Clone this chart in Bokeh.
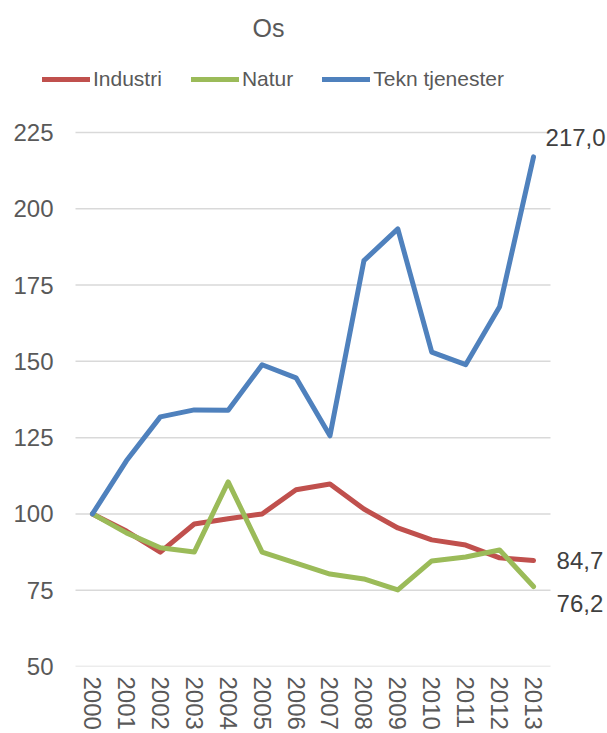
import math
from bokeh.plotting import figure
from bokeh.models import (Range1d, FixedTicker, Legend, LegendItem, Label)
from bokeh.embed import file_html
from bokeh.resources import INLINE

years = list(range(2000, 2014))
industri = [100, 94.4, 87.5, 96.7, 98.4, 100, 107.9, 109.8, 101.6, 95.4, 91.5, 89.8, 85.6, 84.7]
natur = [100, 93.8, 88.9, 87.5, 110.5, 87.5, 83.9, 80.3, 78.7, 75.1, 84.6, 85.9, 88.2, 76.2]
tekn = [100, 117.4, 131.8, 134.1, 134.0, 148.9, 144.6, 125.6, 183.0, 193.4, 153.0, 148.9, 167.9, 217.0]
y_ticks = [50, 75, 100, 125, 150, 175, 200, 225]
series_names = ["Industri", "Natur", "Tekn tjenester"]
colors = ["#C0504D", "#9BBB59", "#4F81BD"]
title_text = "Os"

FONT = "Liberation Sans"

# The frame covers title, legend and end labels so nothing is clipped;
# gridlines are drawn only across the category span.
p = figure(width=607, height=733, output_backend="svg", toolbar_location=None,
           x_range=Range1d(1998.321, 2015.18),
           y_range=Range1d(y_ticks[0], 268.26),
           min_border_left=35, min_border_right=0, min_border_top=0, min_border_bottom=67)
p.outline_line_color = None
p.background_fill_color = "white"
p.border_fill_color = "white"

p.xaxis.ticker = FixedTicker(ticks=years)
p.xaxis.major_label_orientation = -math.pi / 2
p.yaxis.ticker = FixedTicker(ticks=y_ticks)
for ax in (p.xaxis[0], p.yaxis[0]):
    ax.axis_line_color = None
    ax.major_tick_line_color = None
    ax.minor_tick_line_color = None
    ax.major_tick_out = 0
    ax.major_tick_in = 0
    ax.minor_tick_out = 0
    ax.major_label_text_font = FONT
    ax.major_label_text_font_size = "24px"
    ax.major_label_text_color = "#595959"
p.xaxis.major_label_standoff = 10
p.yaxis.major_label_standoff = -18
p.xgrid.grid_line_color = None
p.ygrid.grid_line_color = None

p.segment(x0=[years[0] - 0.5] * len(y_ticks), x1=[years[-1] + 0.5] * len(y_ticks),
          y0=y_ticks, y1=y_ticks, line_color="#d9d9d9", line_width=1.5)

items = []
for name, data, c in zip(series_names, [industri, natur, tekn], colors):
    r = p.line(years, data, line_color=c, line_width=5, line_join="round", line_cap="round")
    items.append(LegendItem(label=name, renderers=[r]))

legend = Legend(items=items, orientation="horizontal", location=(7, 575),
                glyph_width=48, glyph_height=22, label_standoff=3, spacing=29,
                padding=0, margin=0, border_line_color=None, background_fill_alpha=0,
                label_text_font=FONT, label_text_font_size="21px", label_text_color="#595959")
p.add_layout(legend, "center")

lab_kw = dict(text_baseline="middle", text_font=FONT, text_font_size="24px", text_color="#404040")
p.add_layout(Label(x=years[-1], y=tekn[-1], text=f"{tekn[-1]:.1f}".replace(".", ","),
                   x_offset=12, y_offset=19, **lab_kw))
p.add_layout(Label(x=years[-1], y=industri[-1], text=f"{industri[-1]:.1f}".replace(".", ","),
                   x_offset=23, y_offset=0, **lab_kw))
p.add_layout(Label(x=years[-1], y=natur[-1], text=f"{natur[-1]:.1f}".replace(".", ","),
                   x_offset=23, y_offset=-17, **lab_kw))

p.add_layout(Label(x=2005.19, y=259.4, text=title_text, text_align="center",
                   text_baseline="middle", text_font=FONT, text_font_size="25px",
                   text_color="#595959"))

open("out.html", "w").write(file_html(p, INLINE))
